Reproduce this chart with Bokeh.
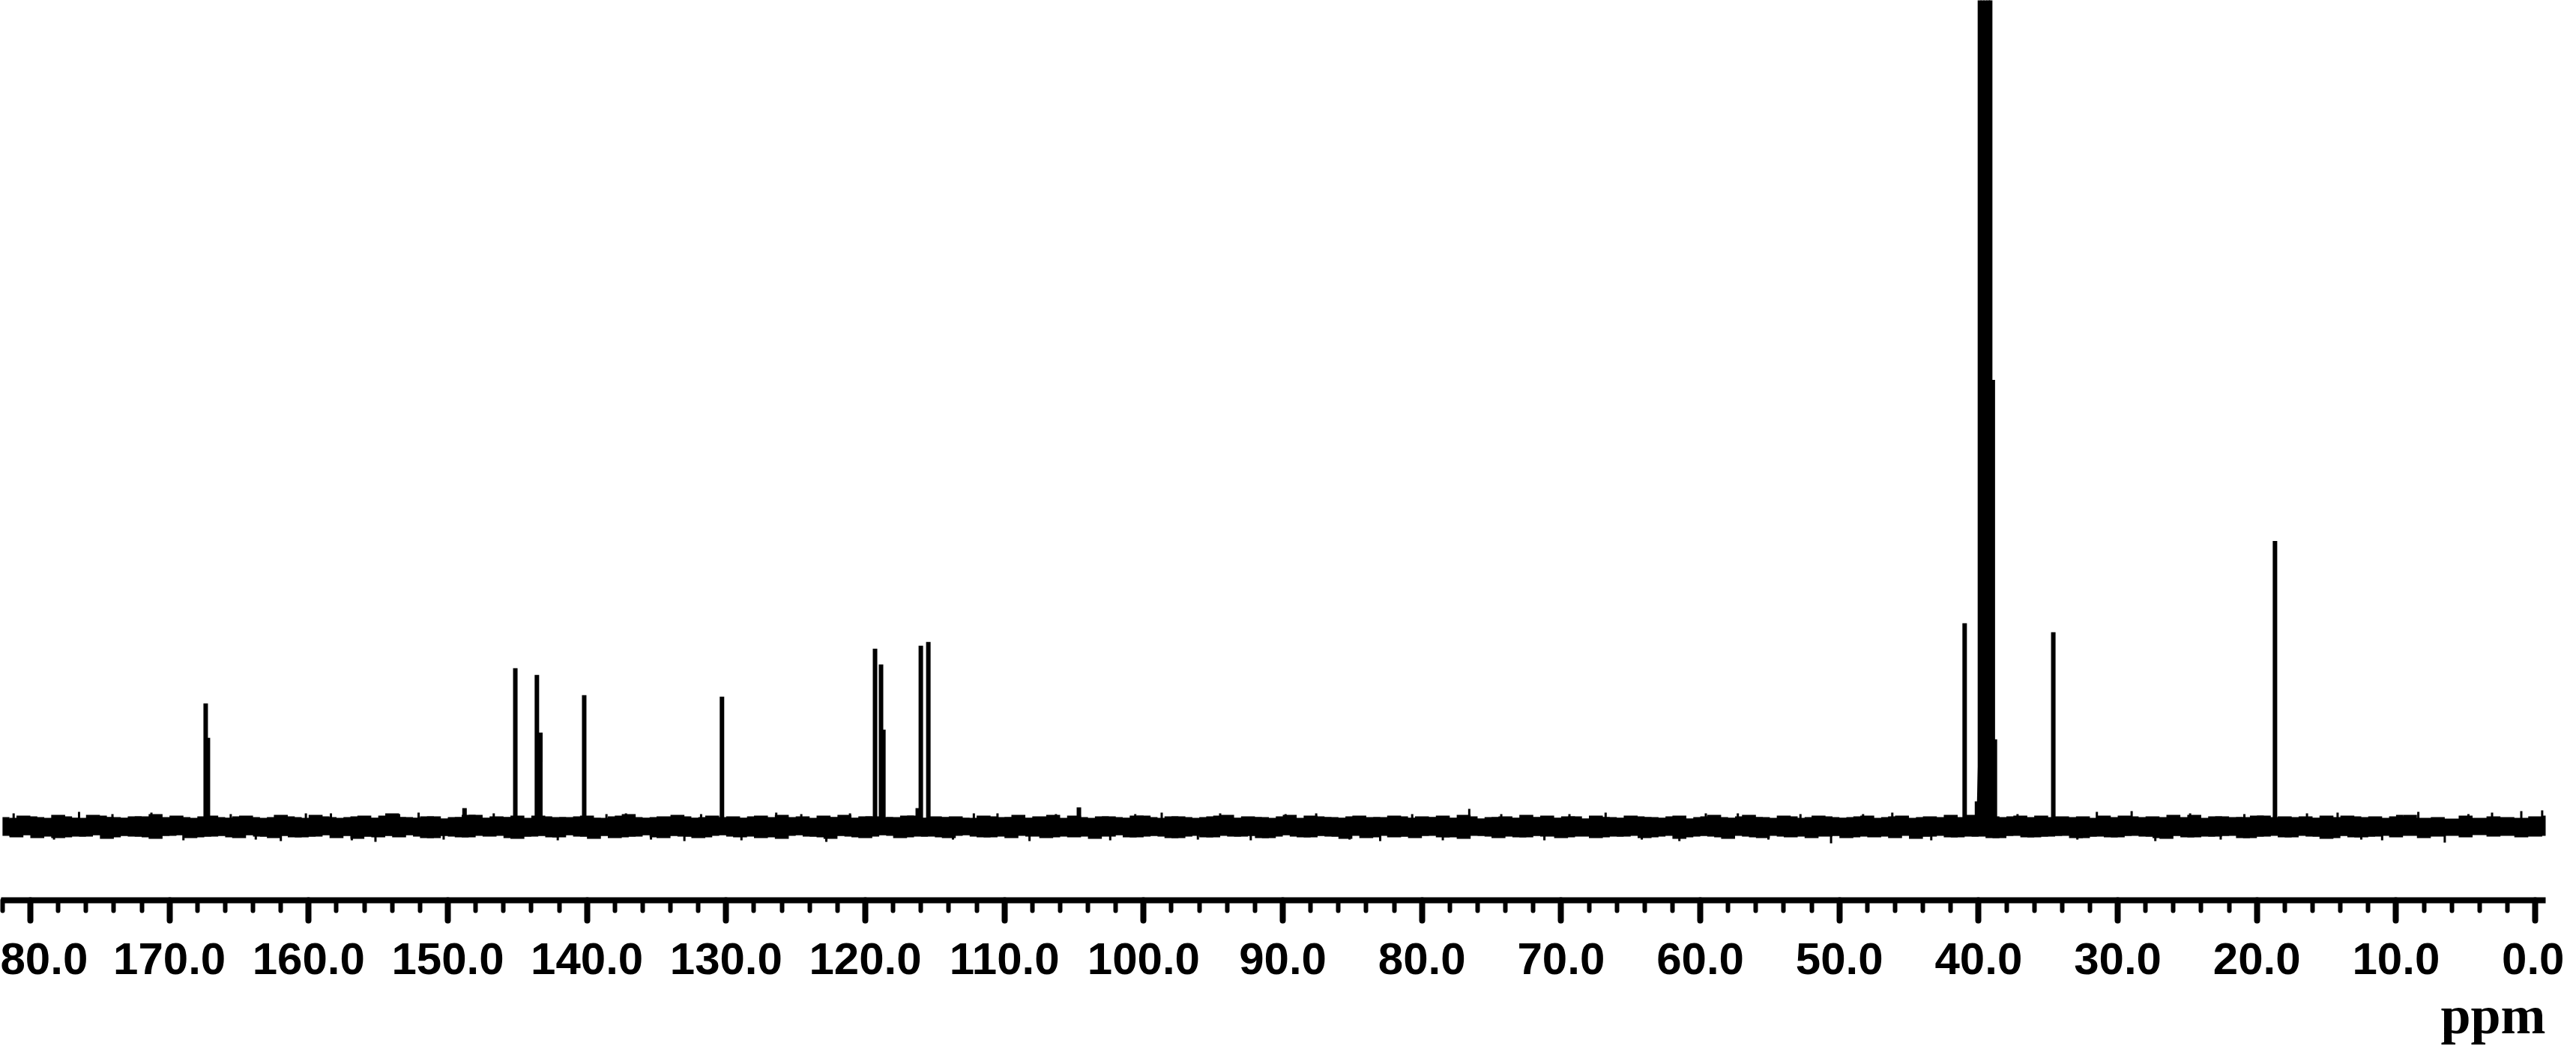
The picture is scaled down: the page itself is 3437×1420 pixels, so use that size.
from bokeh.plotting import figure
from bokeh.models import Range1d, FixedTicker, PrintfTickFormatter, Title
from bokeh.embed import file_html
from bokeh.resources import INLINE
import numpy as np

# ---- data (intensity in px above baseline) ----
peak_ppm = [167.40, 167.24, 148.80, 145.15, 143.60, 143.35, 140.20, 130.30,
            119.30, 118.87, 118.70, 116.23, 116.01, 115.47, 104.65,
            41.00, 34.63, 18.70]
peak_h = [165, 119, 25, 212, 203, 126, 176, 174,
          238, 217, 130, 25, 242, 247, 26,
          272, 260, 382]

# DMSO-d6 solvent multiplet (central lines run off-scale)
solv_ppm = [40.14, 39.93, 39.72, 39.51, 39.30, 39.14, 38.95, 38.80]
solv_h = [34, 1800, 3200, 3600, 3200, 1800, 597, 117]
solv_base_ppm = [40.30, 40.20, 40.12, 40.05, 39.50, 38.98, 38.90, 38.82, 38.74]
solv_base_h = [0, 10, 30, 80, 85, 80, 30, 10, 0]

# baseline noise envelope, one value per ppm from 182 down to -1
noise_hi = [13, 11, 14, 12, 16, 12, 11, 15, 13, 12,
            14, 17, 12, 13, 11, 15, 12, 14, 13, 12,
            16, 13, 11, 14, 12, 13, 15, 12, 18, 13,
            12, 14, 11, 13, 16, 12, 13, 15, 12, 14,
            13, 11, 15, 12, 14, 17, 12, 13, 11, 14,
            12, 15, 13, 12, 14, 11, 16, 13, 12, 15,
            13, 12, 14, 11, 13, 15, 12, 14, 13, 12,
            11, 14, 13, 16, 12, 13, 11, 15, 12, 14,
            13, 12, 15, 11, 14, 13, 12, 14, 16, 12,
            13, 11, 14, 12, 15, 13, 12, 14, 11, 13,
            15, 12, 14, 13, 12, 16, 11, 13, 14, 12,
            13, 15, 12, 14, 11, 13, 12, 15, 13, 12,
            14, 11, 13, 16, 12, 14, 13, 12, 15, 11,
            13, 14, 12, 13, 15, 12, 14, 11, 13, 12,
            16, 13, 12, 14, 11, 15, 13, 12, 14, 13,
            12, 15, 11, 14, 13, 12, 16, 13, 12, 14,
            11, 13, 15, 12, 14, 13, 12, 15, 11, 14,
            13, 12, 14, 16, 12, 13, 11, 15, 12, 14,
            13, 12, 14, 15]
noise_lo = [-12, -14, -11, -13, -15, -12, -13, -11, -14, -12,
            -13, -16, -12, -11, -14, -13, -12, -15, -11, -13,
            -12, -14, -13, -11, -15, -12, -13, -14, -12, -11,
            -13, -15, -12, -14, -11, -13, -12, -16, -13, -12,
            -14, -11, -13, -12, -15, -13, -11, -14, -12, -13,
            -15, -12, -11, -14, -13, -12, -16, -11, -13, -14,
            -12, -13, -15, -11, -12, -14, -13, -12, -15, -11,
            -13, -14, -12, -11, -13, -15, -12, -14, -13, -12,
            -11, -14, -13, -12, -15, -13, -11, -14, -12, -13,
            -12, -15, -11, -13, -14, -12, -13, -11, -15, -12,
            -14, -13, -12, -11, -14, -16, -12, -13, -11, -14,
            -12, -13, -15, -12, -11, -14, -13, -12, -15, -13,
            -11, -14, -12, -13, -16, -12, -14, -11, -13, -12,
            -15, -13, -12, -14, -11, -13, -15, -12, -13, -11,
            -14, -12, -13, -15, -12, -11, -14, -13, -12, -15,
            -13, -11, -14, -12, -13, -15, -12, -14, -11, -13,
            -12, -15, -13, -11, -14, -12, -13, -16, -12, -14,
            -13, -11, -14, -12, -15, -13, -12, -14, -11, -13,
            -12, -14, -13, -12]
# second envelope at the half-ppm points (181.5 down to -0.5)
noise_hi2 = [12, 15, 13, 11, 14, 12, 16, 13, 12, 14,
             11, 13, 15, 12, 14, 13, 12, 15, 11, 13,
             14, 12, 16, 13, 11, 14, 12, 15, 13, 12,
             14, 11, 13, 16, 12, 14, 13, 11, 15, 12,
             13, 14, 12, 11, 15, 13, 12, 14, 16, 12,
             13, 11, 14, 12, 15, 13, 12, 14, 11, 13,
             16, 12, 14, 13, 11, 15, 12, 13, 14, 12,
             15, 11, 13, 12, 14, 16, 12, 13, 11, 14,
             12, 15, 13, 12, 14, 11, 13, 15, 12, 14,
             13, 12, 16, 11, 14, 13, 12, 15, 13, 11,
             14, 12, 13, 15, 12, 14, 11, 13, 12, 16,
             13, 12, 14, 11, 15, 13, 12, 14, 13, 12,
             15, 11, 14, 13, 12, 16, 13, 11, 14, 12,
             15, 13, 12, 14, 11, 13, 15, 12, 14, 13,
             12, 16, 11, 13, 14, 12, 15, 13, 12, 14,
             11, 13, 15, 12, 14, 13, 12, 16, 11, 14,
             13, 12, 15, 13, 11, 14, 12, 13, 15, 12,
             14, 11, 16, 13, 12, 14, 13, 12, 15, 11,
             13, 14, 12]
noise_lo2 = [-13, -11, -15, -12, -14, -13, -11, -16, -12, -13,
             -14, -12, -11, -15, -13, -12, -14, -11, -13, -15,
             -12, -14, -13, -11, -12, -16, -13, -12, -14, -11,
             -15, -12, -13, -14, -12, -11, -15, -13, -12, -14,
             -11, -13, -16, -12, -14, -13, -11, -15, -12, -13,
             -14, -11, -13, -12, -15, -14, -12, -11, -13, -16,
             -12, -14, -13, -11, -15, -12, -13, -14, -12, -11,
             -14, -13, -15, -12, -11, -14, -13, -12, -16, -13,
             -11, -14, -12, -13, -15, -12, -14, -11, -13, -12,
             -15, -13, -11, -14, -12, -13, -16, -12, -14, -11,
             -13, -15, -12, -14, -13, -11, -12, -15, -13, -14,
             -12, -11, -14, -13, -15, -12, -13, -11, -14, -12,
             -16, -13, -12, -14, -11, -13, -15, -12, -14, -13,
             -11, -12, -15, -13, -14, -12, -11, -16, -13, -12,
             -14, -13, -11, -15, -12, -14, -13, -12, -11, -15,
             -13, -14, -12, -11, -13, -16, -12, -14, -13, -12,
             -11, -15, -13, -12, -14, -11, -13, -15, -12, -14,
             -13, -12, -11]
noise_ppm = list(np.arange(182.0, 182.0 - len(noise_hi), -1.0))
noise_ppm2 = list(np.arange(181.5, 181.5 - len(noise_hi2), -1.0))

# isolated noise spikes poking out of the band
spike_ppm = [181.2, 178.3, 176.5, 174.1, 171.3, 169.0, 165.6, 163.8, 162.0,
             160.2, 158.4, 156.9, 155.2, 153.5, 152.1, 150.3, 146.7, 142.1,
             138.6, 137.2, 135.4, 133.0, 131.8, 128.9, 126.4, 124.6, 122.8,
             121.1, 113.7, 112.2, 110.5, 108.2, 106.3, 102.4, 100.6, 98.7,
             96.1, 94.5, 92.3, 89.8, 87.6, 85.2, 83.0, 80.7, 78.5, 76.6,
             74.3, 71.2, 69.4, 66.8, 64.2, 61.5, 59.6, 57.3, 55.1, 52.8,
             50.6, 48.3, 46.2, 43.4, 37.2, 32.9, 31.5, 29.0, 27.3, 24.8,
             22.6, 20.9, 16.4, 14.2, 12.5, 11.0, 8.4, 6.5, 4.8, 3.1, 1.0,
             -0.5]
spike_h = [18, -17, 20, 17, 19, -18, 17, -17, -19,
           18, 18, -18, -20, 17, 19, -17, 18, -18,
           17, 18, -17, -19, 17, -18, 19, 17, -20,
           18, -17, 18, 18, -19, 17, -18, 17, 19,
           -17, 18, -18, 17, 18, -17, -19, 17, -18, 24,
           17, -18, 17, 19, -17, -19, 18, 18, -17, 17,
           -22, 17, 19, -18, 17, -17, 20, 21, -19, 18,
           -17, 17, 18, 19, -17, -18, 20, -21, 17, 19, 21,
           22]

major_ticks = list(range(0, 181, 10))
minor_ticks = list(range(0, 183, 2))
# the leftmost label is cut by the picture's edge in the reference
tick_label_overrides = {180: "80.0"}
x_label = "ppm"

p = figure(width=3421, height=1404, output_backend="svg", toolbar_location=None,
           x_range=Range1d(182.1, -0.75), y_range=Range1d(-98, 1104),
           y_axis_location=None, min_border_left=1, min_border_right=25,
           min_border_top=0, min_border_bottom=202)
p.outline_line_color = None
p.xgrid.visible = False
p.ygrid.visible = False
p.background_fill_color = "white"
p.border_fill_color = "white"

# noise band
p.varea_step(x=noise_ppm, y1=noise_lo, y2=noise_hi, step_mode="center",
             fill_color="black")
p.varea_step(x=noise_ppm2, y1=noise_lo2, y2=noise_hi2, step_mode="center",
             fill_color="black")
p.segment(x0=spike_ppm, y0=[0] * len(spike_ppm), x1=spike_ppm, y1=spike_h,
          line_color="black", line_width=3)
# solvent base
p.varea(x=solv_base_ppm, y1=[0] * len(solv_base_h), y2=solv_base_h,
        fill_color="black")
# peaks
p.segment(x0=peak_ppm, y0=[0] * len(peak_ppm), x1=peak_ppm, y1=peak_h,
          line_color="black", line_width=6)
p.segment(x0=solv_ppm, y0=[0] * len(solv_ppm), x1=solv_ppm, y1=solv_h,
          line_color="black", line_width=5)

ax = p.xaxis[0]
ax.ticker = FixedTicker(ticks=major_ticks, minor_ticks=minor_ticks)
ax.formatter = PrintfTickFormatter(format="%.1f")
ax.major_label_overrides = tick_label_overrides
ax.axis_line_color = "black"
ax.axis_line_width = 8
ax.major_tick_line_color = "black"
ax.major_tick_line_width = 8
ax.major_tick_line_cap = "round"
ax.major_tick_in = 0
ax.major_tick_out = 27
ax.minor_tick_line_color = "black"
ax.minor_tick_line_width = 6
ax.minor_tick_line_cap = "round"
ax.minor_tick_in = 0
ax.minor_tick_out = 14
ax.major_label_text_font = "Liberation Sans"
ax.major_label_text_font_style = "bold"
ax.major_label_text_font_size = "60px"
ax.major_label_text_color = "black"
ax.major_label_standoff = 30

p.add_layout(Title(text=x_label, align="right", text_font="Liberation Serif",
                   text_font_style="bold", text_font_size="72px",
                   text_color="black", standoff=20), "below")

open("out.html", "w").write(file_html(p, INLINE))
